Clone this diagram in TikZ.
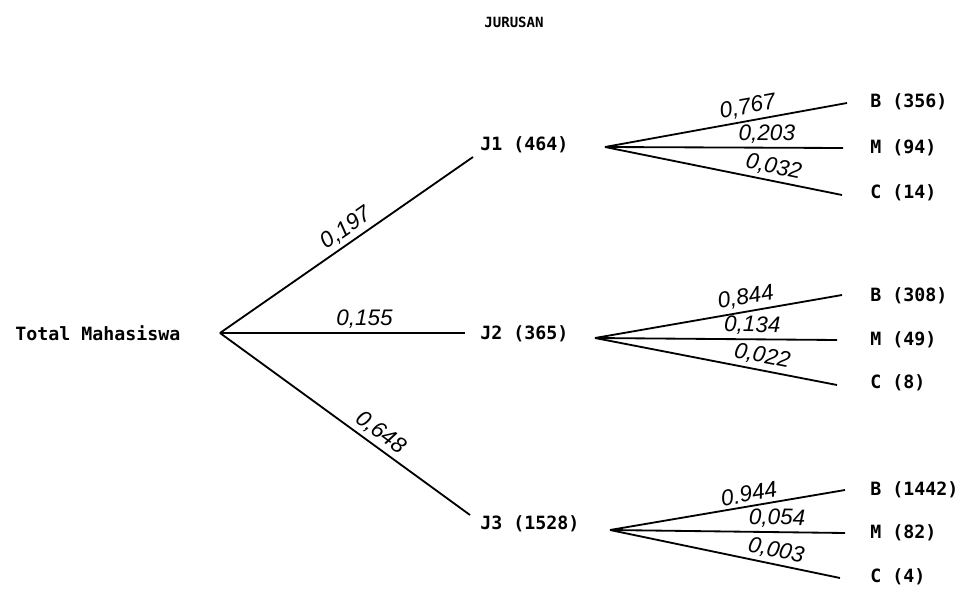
\documentclass[tikz,border=0pt]{standalone}
\usepackage{fontspec}
\newfontfamily\dotfont{DejaVu Sans Mono}
\newfontfamily\handfont{Liberation Sans}
\tikzset{
  lbl/.style={font=\dotfont\bfseries\fontsize{13}{15}\selectfont, inner sep=0pt, anchor=west},
  branch/.style={line width=1.3pt},
  prob/.style={font=\handfont\itshape\fontsize{16}{18}\selectfont, sloped, above, inner sep=2.5pt}
}

\begin{document}
\begin{tikzpicture}[x=0.025cm,y=0.025cm]
  \useasboundingbox (0,0) rectangle (961,608);

  \node[lbl, anchor=center, font=\dotfont\bfseries\fontsize{10}{12}\selectfont] (title) at (514,586) {JURUSAN};

%first level:
  \node[lbl] (total) at (15,275) {Total Mahasiswa};
  \coordinate (root) at (220,275);

  \node[lbl] (j1) at (480,463) {J1 (464)};
  \node[lbl] (j2) at (480,274) {J2 (365)};
  \node[lbl] (j3) at (480,84) {J3 (1528)};
  \coordinate (e1) at (473,451);
  \coordinate (e2) at (465,275);
  \coordinate (e3) at (470,93);

  \draw[branch] (root) -- (e1) node[prob, pos=0.53]{0,197};
  \draw[branch] (root) -- (e2) node[prob, pos=0.59]{0,155};
  \draw[branch] (root) -- (e3) node[prob, pos=0.61]{0,648};

%second level:
  \node[lbl] (b1) at (870,506) {B (356)};
  \node[lbl] (m1) at (870,460) {M (94)};
  \node[lbl] (c1) at (870,415) {C (14)};
  \node[lbl] (b2) at (870,312) {B (308)};
  \node[lbl] (m2) at (870,268) {M (49)};
  \node[lbl] (c2) at (870,225) {C (8)};
  \node[lbl] (b3) at (870,118) {B (1442)};
  \node[lbl] (m3) at (870,75) {M (82)};
  \node[lbl] (c3) at (870,31) {C (4)};

  \coordinate (f1) at (605,461);
  \coordinate (f2) at (595,270);
  \coordinate (f3) at (610,78);

  \draw[branch] (f1) -- (847,505) node[prob, pos=0.6]{0,767};
  \draw[branch] (f1) -- (843,460) node[prob, pos=0.68]{0,203};
  \draw[branch] (f1) -- (842,413) node[prob, pos=0.7]{0,032};

  \draw[branch] (f2) -- (842,313) node[prob, pos=0.62]{0,844};
  \draw[branch] (f2) -- (837,268) node[prob, pos=0.65]{0,134};
  \draw[branch] (f2) -- (837,223) node[prob, pos=0.68]{0,022};

  \draw[branch] (f3) -- (845,118) node[prob, pos=0.6]{0.944};
  \draw[branch] (f3) -- (845,75) node[prob, pos=0.71]{0,054};
  \draw[branch] (f3) -- (840,30) node[prob, pos=0.71]{0,003};

\end{tikzpicture}
\end{document}
